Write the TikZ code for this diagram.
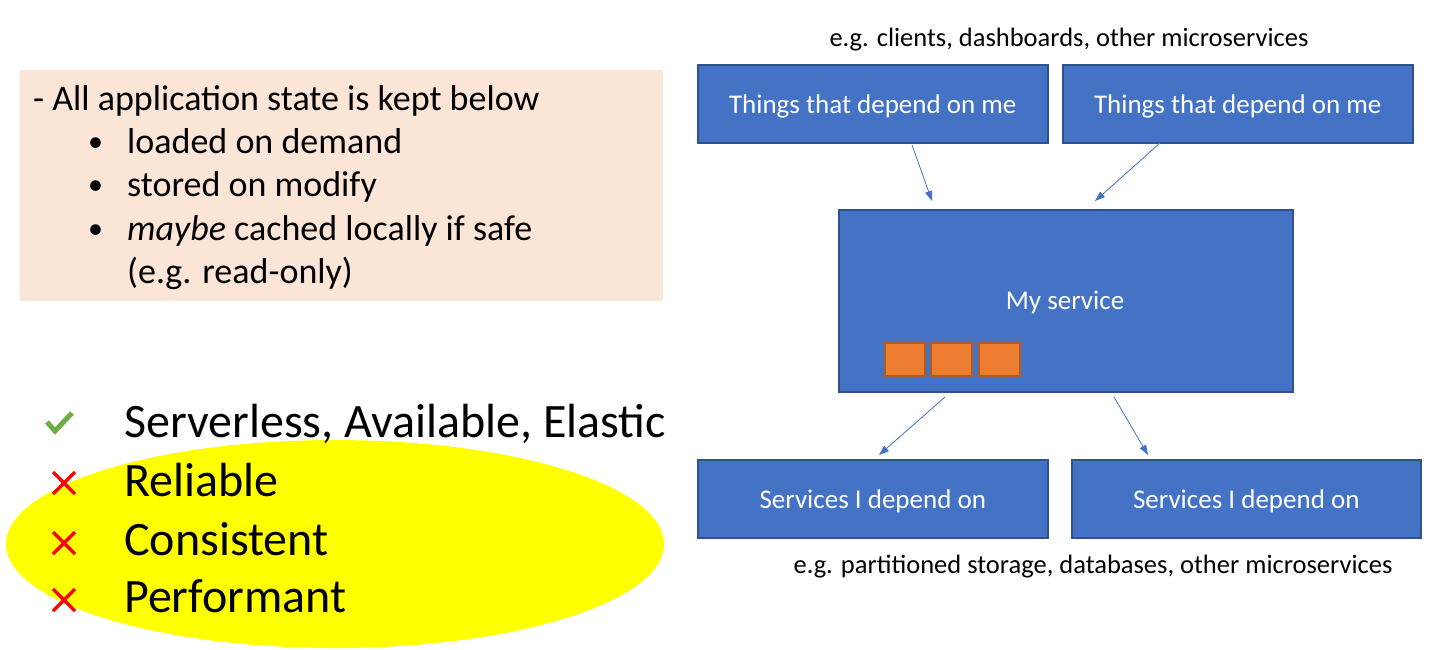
\documentclass[tikz,border=0pt]{standalone}
\usepackage{fontspec}
\setmainfont{Carlito}
\usetikzlibrary{arrows.meta,shapes.geometric}
\definecolor{boxblue}{HTML}{4472C4}
\definecolor{boxedge}{HTML}{2F528F}
\definecolor{orfill}{HTML}{ED7D31}
\definecolor{oredge}{HTML}{AE5A21}
\definecolor{pinkbg}{HTML}{FBE5D6}
\definecolor{yel}{HTML}{FFFF00}
\definecolor{chk}{HTML}{70AD47}
\definecolor{crs}{HTML}{FF0000}
\tikzset{
  bluebox/.style={draw=boxedge,fill=boxblue,line width=1.5pt,text=white,font=\fontsize{27}{32}\selectfont},
  orbox/.style={draw=oredge,fill=orfill,line width=1.5pt},
  conn/.style={draw=boxblue,line width=0.8pt,-{Triangle[length=10pt,width=7pt]}},
  pinktxt/.style={anchor=base west,inner sep=0pt,font=\fontsize{36}{43}\selectfont},
  bullettxt/.style={anchor=base west,inner sep=0pt,font=\fontsize{30}{36}\selectfont},
  bigtxt/.style={anchor=base west,inner sep=0pt,font=\fontsize{48}{58}\selectfont},
  notetxt/.style={anchor=base,inner sep=0pt,font=\fontsize{26.5}{32}\selectfont},
  crossmark/.style={draw=crs,line width=3.5pt}
}
\begin{document}
\begin{tikzpicture}[x=1pt,y=-1pt]
\useasboundingbox (0,0) rectangle (1450,649);
\fill[white] (0,0) rectangle (1450,649);
% pink box
\node[fill=pinkbg,minimum width=643pt,minimum height=231pt,anchor=north west,inner sep=0pt] (pink) at (20,70) {};
\node[pinktxt] (p1) at (33,110) {- All application state is kept below};
\node[bullettxt] (b1) at (88,151) {•};
\node[pinktxt] (p2) at (127,153) {loaded on demand};
\node[bullettxt] (b2) at (88,194) {•};
\node[pinktxt] (p3) at (127,196) {stored on modify};
\node[bullettxt] (b3) at (88,238) {•};
\node[pinktxt] (p4) at (127,240) {\textit{maybe} cached locally if safe};
\node[pinktxt] (p5) at (127,283) {(e.g. read-only)};
% yellow ellipse
\node[ellipse,fill=yel,minimum width=658pt,minimum height=208pt,inner sep=0pt] (ell) at (335,544) {};
% checks and crosses
\draw[draw=chk,line width=5pt] (47,422) -- (55,431) -- (72,413);
\node[bigtxt] (s1) at (124,437) {Serverless, Available, Elastic};
\draw[crossmark] (53,472) -- (75,494) (75,472) -- (53,494);
\node[bigtxt] (s2) at (124,496) {Reliable};
\draw[crossmark] (53,532) -- (75,554) (75,532) -- (53,554);
\node[bigtxt] (s3) at (124,555) {Consistent};
\draw[crossmark] (53,589) -- (75,611) (75,589) -- (53,611);
\node[bigtxt] (s4) at (124,612) {Performant};
% right diagram
\node[notetxt] (ntop) at (1069,46) {e.g. clients, dashboards, other microservices};
\node[bluebox,minimum width=350pt,minimum height=78pt,anchor=north west,text depth=0pt] (t1) at (697,64) {Things that depend on me};
\node[bluebox,minimum width=350pt,minimum height=78pt,anchor=north west,text depth=0pt] (t2) at (1062,64) {Things that depend on me};
\node[bluebox,minimum width=454pt,minimum height=182pt,anchor=north west] (svc) at (838,209) {};
\node[text=white,font=\fontsize{27}{32}\selectfont] (svct) at (1065,302) {My service};
\node[orbox,minimum width=40pt,minimum height=33pt,anchor=north west,inner sep=0pt] (o1) at (884,342) {};
\node[orbox,minimum width=41pt,minimum height=33pt,anchor=north west,inner sep=0pt] (o2) at (930,342) {};
\node[orbox,minimum width=41pt,minimum height=33pt,anchor=north west,inner sep=0pt] (o3) at (978,342) {};
\node[bluebox,minimum width=350pt,minimum height=78pt,anchor=north west,text depth=0pt] (d1) at (697,459) {Services I depend on};
\node[bluebox,minimum width=349pt,minimum height=78pt,anchor=north west,text depth=0pt] (d2) at (1071,459) {Services I depend on};
\node[notetxt] (nbot) at (1093,573) {e.g. partitioned storage, databases, other microservices};
% arrows
\coordinate (a1s) at (912,145); \coordinate (a1e) at (932,201);
\coordinate (a2s) at (1160,143); \coordinate (a2e) at (1095,201);
\coordinate (a3s) at (945,397); \coordinate (a3e) at (879,455);
\coordinate (a4s) at (1114,397); \coordinate (a4e) at (1148,455);
\draw[conn] (a1s) -- (a1e);
\draw[conn] (a2s) -- (a2e);
\draw[conn] (a3s) -- (a3e);
\draw[conn] (a4s) -- (a4e);
\end{tikzpicture}
\end{document}
